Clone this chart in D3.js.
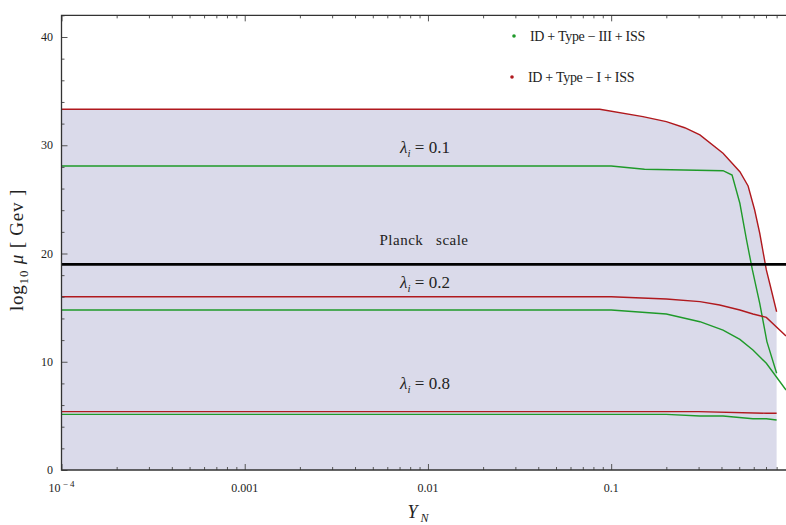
<!DOCTYPE html>
<html>
<head>
<meta charset="utf-8">
<script src="https://cdn.jsdelivr.net/npm/d3@7"></script>
<style>
  body { margin: 0; background: white; }
  text { font-family: "Liberation Serif", "DejaVu Serif", serif; fill: #222; }
</style>
</head>
<body>
<svg id="chart" width="786" height="525"></svg>
<script>
// Type-I (red) and Type-III (green), for lambda_i = 0.1, 0.2, 0.8
var yN_I_01   = [1e-4, 0.0867, 0.149, 0.2, 0.252, 0.305, 0.408, 0.504, 0.559, 0.607, 0.647, 0.703, 0.733, 0.8];
var mu_I_01   = [33.33, 33.32, 32.64, 32.18, 31.62, 30.95, 29.26, 27.56, 26.24, 24.02, 21.87, 18.48, 17.25, 14.62];
var yN_III_01 = [1e-4, 0.1, 0.152, 0.408, 0.457, 0.504, 0.548, 0.590, 0.647, 0.708, 0.8];
var mu_III_01 = [28.08, 28.08, 27.78, 27.65, 27.25, 24.64, 21.25, 18.48, 15.40, 11.86, 8.94];
var yN_I_02   = [1e-4, 0.1, 0.2, 0.305, 0.391, 0.504, 0.594, 0.703, 0.9];
var mu_I_02   = [16.01, 16.01, 15.80, 15.55, 15.24, 14.78, 14.41, 14.10, 12.38];
var yN_III_02 = [1e-4, 0.1, 0.2, 0.305, 0.408, 0.504, 0.594, 0.703, 0.9];
var mu_III_02 = [14.78, 14.78, 14.41, 13.70, 12.93, 12.07, 11.09, 9.86, 7.39];
var yN_I_08   = [1e-4, 0.3, 0.703, 0.8];
var mu_I_08   = [5.39, 5.39, 5.24, 5.24];
var yN_III_08 = [1e-4, 0.2, 0.305, 0.408, 0.594, 0.703, 0.8];
var mu_III_08 = [5.14, 5.14, 4.99, 4.99, 4.74, 4.74, 4.62];

var planck = 19;
var xMajor = [1e-4, 1e-3, 1e-2, 1e-1];
var xMajorLabels = ["10^-4", "0.001", "0.01", "0.1"];
var yMajor = [0, 10, 20, 30, 40];

var red = "#b0191e", green = "#1f9a2a";

var svg = d3.select("#chart");

var x = d3.scaleLog().domain([1e-4, 0.9]).range([61.5, 786]);
var y = d3.scaleLinear().domain([0, 42]).range([470, 15.35]);

function zipPts(xs, ys) {
    return xs.map(function(v, i) { return [v, ys[i]]; });
}

svg.append("defs").append("clipPath").attr("id", "clip")
    .append("rect").attr("x", 61.5).attr("y", 15).attr("width", 730).attr("height", 455);

var plot = svg.append("g").attr("clip-path", "url(#clip)");

// shaded region under the top Type-I curve
var area = d3.area()
    .x(function(d) { return x(d[0]); })
    .y0(y(0))
    .y1(function(d) { return y(d[1]); });

plot.append("path")
    .datum(zipPts(yN_I_01, mu_I_01))
    .attr("d", area)
    .attr("fill", "#dadaea");

var line = d3.line()
    .x(function(d) { return x(d[0]); })
    .y(function(d) { return y(d[1]); });

var curves = [
    [yN_I_01, mu_I_01, red], [yN_III_01, mu_III_01, green],
    [yN_I_02, mu_I_02, red], [yN_III_02, mu_III_02, green],
    [yN_I_08, mu_I_08, red], [yN_III_08, mu_III_08, green]
];

curves.forEach(function(c) {
    plot.append("path")
        .datum(zipPts(c[0], c[1]))
        .attr("d", line)
        .attr("fill", "none")
        .attr("stroke", c[2])
        .attr("stroke-width", 1.4);
});

// Planck scale line
plot.append("line")
    .attr("x1", x(1e-4)).attr("x2", 786)
    .attr("y1", y(planck)).attr("y2", y(planck))
    .attr("stroke", "black")
    .attr("stroke-width", 2.6);

// minor tick values
var xMinor = [];
[1e-4, 1e-3, 1e-2, 1e-1].forEach(function(d) {
    for (var k = 2; k <= 9; k++) {
        if (d * k <= 0.9) xMinor.push(d * k);
    }
});
var yMinor = d3.range(0, 43, 2).filter(function(v) { return v % 10 != 0; });

// ticks, pointing inwards
function ticks(axis, vals, size, transform) {
    var g = svg.append("g")
        .attr("transform", transform)
        .call(axis.tickValues(vals).tickSizeInner(-size).tickSizeOuter(0).tickFormat(""));
    g.select(".domain").remove();
    g.selectAll(".tick line").attr("stroke", "#555");
}
ticks(d3.axisBottom(x), xMinor, 3, "translate(0," + y(0) + ")");
ticks(d3.axisBottom(x), xMajor, 6, "translate(0," + y(0) + ")");
ticks(d3.axisTop(x), xMinor, 3, "translate(0," + y(42) + ")");
ticks(d3.axisTop(x), xMajor, 6, "translate(0," + y(42) + ")");
ticks(d3.axisLeft(y), yMinor, 3, "translate(" + x(1e-4) + ",0)");
ticks(d3.axisLeft(y), yMajor, 6, "translate(" + x(1e-4) + ",0)");

// frame lines
svg.append("path")
    .attr("d", "M786," + y(42) + "H" + x(1e-4) + "V" + y(0) + "H786")
    .attr("fill", "none")
    .attr("stroke", "#333")
    .attr("stroke-width", 1.3);

// tick labels
svg.selectAll(".ylab")
    .data(yMajor)
    .enter().append("text")
    .attr("x", 53)
    .attr("y", function(d) { return y(d) + 4; })
    .attr("text-anchor", "end")
    .attr("font-size", 12)
    .text(function(d) { return d; });

xMajorLabels.forEach(function(lab, i) {
    var t = svg.append("text")
        .attr("x", x(xMajor[i]))
        .attr("y", 492)
        .attr("text-anchor", "middle")
        .attr("font-size", 12);
    if (lab.indexOf("^") >= 0) {
        var parts = lab.split("^");
        t.append("tspan").text(parts[0]);
        t.append("tspan").attr("dy", -5).attr("font-size", 9).text(" " + parts[1].replace("-", "\u2212 "));
    } else {
        t.text(lab);
    }
});

// axis titles
var yt = svg.append("text")
    .attr("transform", "translate(23,250) rotate(-90)")
    .attr("text-anchor", "middle")
    .attr("font-size", 19)
    .attr("letter-spacing", 0.8);
yt.append("tspan").text("log");
yt.append("tspan").attr("dy", 5).attr("font-size", 13).text("10");
yt.append("tspan").attr("dy", -5).attr("font-style", "italic").text(" \u03bc");
yt.append("tspan").text(" [ Gev ]");

var xt = svg.append("text")
    .attr("x", 418)
    .attr("y", 518)
    .attr("text-anchor", "middle")
    .attr("font-size", 18);
xt.append("tspan").attr("font-style", "italic").text("Y");
xt.append("tspan").attr("dy", 4).attr("font-size", 12).attr("font-style", "italic").text(" N");

// in-plot labels
function lambdaLabel(val, cy) {
    var t = svg.append("text")
        .attr("x", 425)
        .attr("y", cy)
        .attr("text-anchor", "middle")
        .attr("font-size", 17);
    t.append("tspan").attr("font-style", "italic").text("\u03bb");
    t.append("tspan").attr("dy", 4).attr("font-size", 11).attr("font-style", "italic").text("i");
    t.append("tspan").attr("dy", -4).text(" = " + val);
}
lambdaLabel("0.1", 153);
lambdaLabel("0.2", 288);
lambdaLabel("0.8", 389);

svg.append("text")
    .attr("x", 424)
    .attr("y", 245)
    .attr("text-anchor", "middle")
    .attr("font-size", 15)
    .attr("letter-spacing", 0.5)
    .attr("xml:space", "preserve")
    .text("Planck   scale");

// legend
var legend = [
    {label: "ID + Type \u2212 III + ISS", color: green, cx: 514, cy: 36},
    {label: "ID + Type \u2212 I + ISS", color: red, cx: 512, cy: 77}
];
legend.forEach(function(l) {
    svg.append("circle")
        .attr("cx", l.cx).attr("cy", l.cy).attr("r", 1.8)
        .attr("fill", l.color);
    svg.append("text")
        .attr("x", l.cx + 16)
        .attr("y", l.cy + 5)
        .attr("font-size", 14)
        .attr("letter-spacing", -0.3)
        .text(l.label);
});
</script>
</body>
</html>
